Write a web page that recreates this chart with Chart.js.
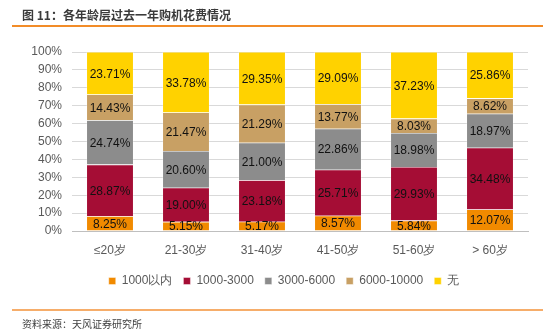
<!DOCTYPE html>
<html>
<head>
<meta charset="utf-8">
<script src="https://cdn.jsdelivr.net/npm/chart.js@4.4.0/dist/chart.umd.min.js"></script>
<style>
  body { margin: 0; background: #fff; }
  #wrap { position: relative; width: 550px; height: 332px; overflow: hidden; }
  #myChart { position: absolute; left: 0; top: 0; }
  .title { position: absolute; left: 22px; top: 6px; font: bold 12px "Noto Sans CJK SC", sans-serif; color: #3a3a3a; }
  .rule { position: absolute; left: 12px; width: 531px; }
  .top-rule { top: 25px; height: 2px; background: #f28c28; }
  .bottom-rule { top: 309px; height: 2px; background: #f6ad6a; }
  .source { position: absolute; left: 22px; top: 316px; font: 10px "Noto Sans CJK SC", sans-serif; color: #404040; }
</style>
</head>
<body>
<div id="wrap">
  <canvas id="myChart" width="550" height="332"></canvas>
  <div class="title">图 11：各年龄层过去一年购机花费情况</div>
  <div class="rule top-rule"></div>
  <div class="rule bottom-rule"></div>
  <div class="source">资料来源：天风证券研究所</div>
</div>
<script>
// age groups and spend bands
let categories = ["≤20岁", "21-30岁", "31-40岁", "41-50岁", "51-60岁", "> 60岁"];
let seriesNames = ["1000以内", "1000-3000", "3000-6000", "6000-10000", "无"];
// shares per band (%)
let under1000 = [8.25, 5.15, 5.17, 8.57, 5.84, 12.07];
let from1000to3000 = [28.87, 19.00, 23.18, 25.71, 29.93, 34.48];
let from3000to6000 = [24.74, 20.60, 21.00, 22.86, 18.98, 18.97];
let from6000to10000 = [14.43, 21.47, 21.29, 13.77, 8.03, 8.62];
let none = [23.71, 33.78, 29.35, 29.09, 37.23, 25.86];
let yTicks = [0, 10, 20, 30, 40, 50, 60, 70, 80, 90, 100];
let colors = ["#f18a00", "#a50d35", "#8c8c8c", "#c8a064", "#ffd200"];

let seriesValues = [under1000, from1000to3000, from3000to6000, from6000to10000, none];

// draws the % text in the middle of each segment
let segmentLabels = {
  id: 'segmentLabels',
  afterDatasetsDraw(chart) {
    let ctx = chart.ctx;
    ctx.save();
    ctx.font = '12px "Liberation Sans", Arial, sans-serif';
    ctx.fillStyle = '#111';
    ctx.textAlign = 'center';
    ctx.textBaseline = 'middle';
    chart.data.datasets.forEach((ds, i) => {
      let meta = chart.getDatasetMeta(i);
      meta.data.forEach((bar, j) => {
        let y = (bar.y + bar.base) / 2;
        ctx.fillText(ds.data[j].toFixed(2) + '%', bar.x, y + 1);
      });
    });
    ctx.restore();
  }
};

// legend in the reference is centred a bit right of the canvas middle
let shiftLegend = {
  id: 'shiftLegend',
  afterLayout(chart) {
    chart.legend.left = 40;
    chart.legend.right = 528;
  }
};

let ctx = document.getElementById('myChart').getContext('2d');
let myChart = new Chart(ctx, {
  type: 'bar',
  data: {
    labels: categories,
    datasets: seriesNames.map((name, i) => ({
      label: name,
      data: seriesValues[i],
      backgroundColor: colors[i],
      borderColor: 'rgba(255,255,255,0.7)',
      borderWidth: 0.6,
      categoryPercentage: 0.62,
      barPercentage: 1
    }))
  },
  options: {
    responsive: false,
    animation: false,
    layout: { padding: { top: 52, right: 22, bottom: 35, left: 0 } },
    scales: {
      x: {
        stacked: true,
        grid: { display: false },
        border: { display: true, color: '#bfbfbf', width: 1 },
        ticks: { color: '#595959', padding: 4, font: { size: 12, family: '"Liberation Sans", Arial, sans-serif' } },
        afterFit: (scale) => { scale.height = 33; }
      },
      y: {
        stacked: true,
        min: 0,
        max: 100,
        afterBuildTicks: (scale) => { scale.ticks = yTicks.map(v => ({ value: v })); },
        grid: { color: '#d9d9d9', drawTicks: false },
        border: { display: false },
        ticks: {
          color: '#595959',
          padding: 10,
          font: { size: 12, family: '"Liberation Sans", Arial, sans-serif' },
          callback: (v) => v + '%'
        },
        afterFit: (scale) => { scale.width = 72; }
      }
    },
    plugins: {
      legend: {
        position: 'bottom',
        labels: {
          boxWidth: 7,
          boxHeight: 7,
          padding: 11,
          color: '#595959',
          font: { size: 12, family: '"Liberation Sans", Arial, sans-serif' }
        }
      },
      tooltip: { enabled: false }
    }
  },
  plugins: [segmentLabels, shiftLegend]
});
</script>
</body>
</html>
